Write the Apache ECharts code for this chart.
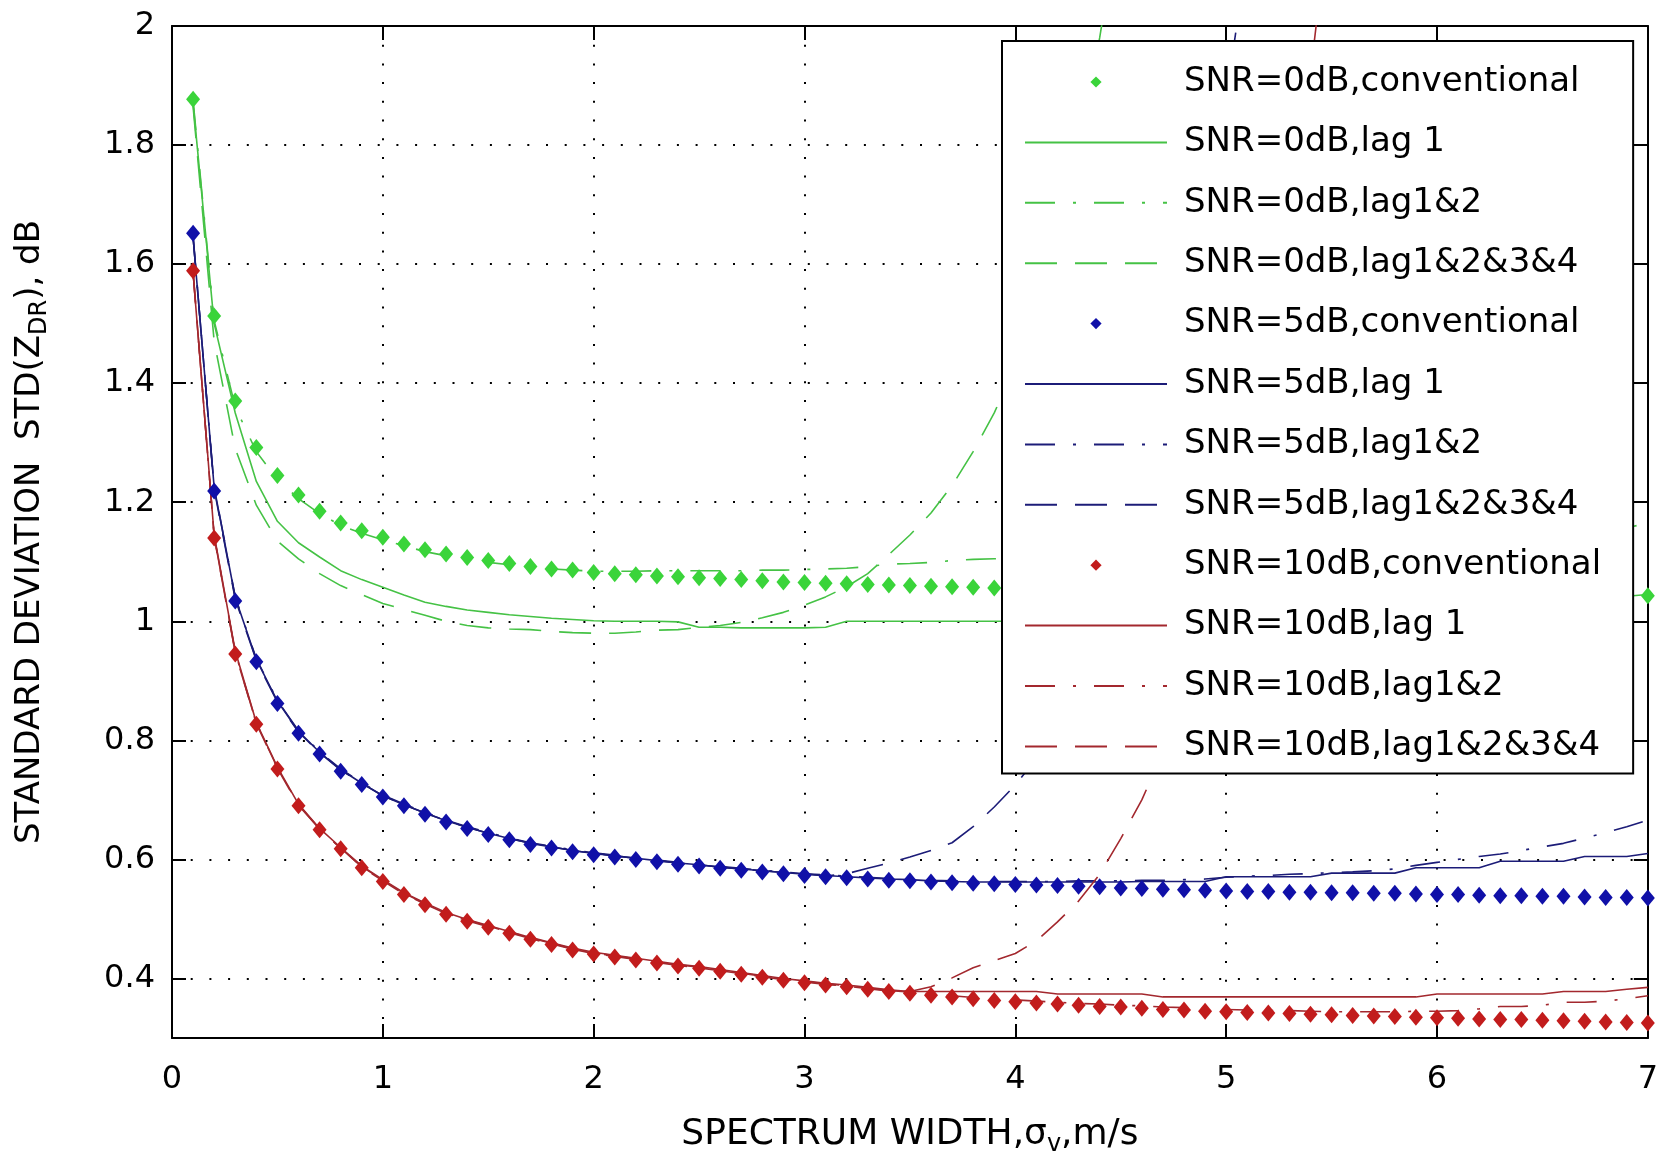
<!DOCTYPE html>
<html>
<head>
<meta charset="utf-8">
<script src="https://cdn.jsdelivr.net/npm/echarts@6/dist/echarts.min.js"></script>
<style>
  html, body { margin: 0; padding: 0; background: #ffffff; }
  #chart { width: 1661px; height: 1162px; }
</style>
</head>
<body>
<div id="chart"></div>
<script>
// Spectrum width samples (m/s)
const widths = [
  0.1,0.2,0.3,0.4,0.5,0.6,0.7,0.8,0.9,1.0,
  1.1,1.2,1.3,1.4,1.5,1.6,1.7,1.8,1.9,2.0,
  2.1,2.2,2.3,2.4,2.5,2.6,2.7,2.8,2.9,3.0,
  3.1,3.2,3.3,3.4,3.5,3.6,3.7,3.8,3.9,4.0,
  4.1,4.2,4.3,4.4,4.5,4.6,4.7,4.8,4.9,5.0,
  5.1,5.2,5.3,5.4,5.5,5.6,5.7,5.8,5.9,6.0,
  6.1,6.2,6.3,6.4,6.5,6.6,6.7,6.8,6.9,7.0
];

// SNR = 0 dB
const snr0Conventional = [
  1.877,1.513,1.370,1.292,1.245,1.212,1.185,1.165,1.152,1.141,
  1.130,1.120,1.113,1.107,1.102,1.097,1.092,1.088,1.086,1.082,
  1.080,1.078,1.076,1.075,1.073,1.072,1.070,1.068,1.066,1.065,
  1.064,1.063,1.062,1.061,1.060,1.059,1.058,1.057,1.056,1.055,
  1.055,1.054,1.054,1.053,1.053,1.052,1.052,1.051,1.051,1.050,
  1.050,1.049,1.049,1.048,1.048,1.048,1.047,1.047,1.047,1.046,
  1.046,1.046,1.045,1.045,1.045,1.044,1.044,1.044,1.043,1.043
];
const snr0Lag1 = [
  1.870,1.500,1.350,1.235,1.168,1.132,1.108,1.085,1.070,1.057,
  1.044,1.032,1.025,1.019,1.015,1.011,1.008,1.005,1.003,1.001,
  1.000,1.000,1.000,0.999,0.990,0.990,0.989,0.989,0.989,0.989,
  0.990,1.000,1.000,1.000,1.000,1.000,1.000,1.000,1.000,1.000,
  1.001,1.002,1.003,1.004,1.005,1.006,1.007,1.008,1.009,1.010,
  1.011,1.012,1.013,1.014,1.016,1.017,1.018,1.020,1.021,1.023,
  1.025,1.027,1.029,1.031,1.033,1.035,1.037,1.039,1.042,1.045
];
const snr0Lag12 = [
  1.875,1.505,1.360,1.285,1.238,1.206,1.181,1.161,1.148,1.137,
  1.127,1.117,1.110,1.104,1.099,1.095,1.091,1.088,1.086,1.084,
  1.084,1.084,1.085,1.085,1.085,1.085,1.085,1.086,1.086,1.087,
  1.088,1.089,1.092,1.096,1.097,1.099,1.102,1.104,1.105,1.106,
  1.107,1.108,1.109,1.110,1.111,1.112,1.113,1.114,1.115,1.116,
  1.117,1.118,1.119,1.120,1.121,1.123,1.124,1.126,1.127,1.129,
  1.131,1.133,1.135,1.137,1.140,1.143,1.147,1.151,1.157,1.165
];
const snr0Lag1234 = [
  1.865,1.470,1.290,1.195,1.135,1.105,1.080,1.060,1.045,1.030,
  1.020,1.010,1.000,0.993,0.989,0.987,0.986,0.983,0.981,0.980,
  0.980,0.982,0.985,0.986,0.990,0.993,0.998,1.006,1.015,1.027,
  1.041,1.058,1.080,1.112,1.145,1.182,1.228,1.285,1.350,1.430,
  1.530,1.650,1.800,1.980,2.200
];

// SNR = 5 dB
const snr5Conventional = [
  1.652,1.219,1.034,0.932,0.862,0.812,0.777,0.748,0.726,0.705,
  0.690,0.676,0.663,0.652,0.642,0.633,0.625,0.619,0.613,0.608,
  0.604,0.600,0.596,0.592,0.589,0.585,0.582,0.579,0.576,0.573,
  0.571,0.569,0.567,0.565,0.564,0.562,0.561,0.560,0.559,0.558,
  0.557,0.556,0.555,0.554,0.552,0.551,0.550,0.549,0.548,0.547,
  0.546,0.546,0.545,0.545,0.544,0.544,0.543,0.543,0.542,0.541,
  0.541,0.540,0.539,0.539,0.538,0.538,0.537,0.536,0.536,0.535
];
const snr5Lag1 = [
  1.645,1.225,1.040,0.936,0.866,0.815,0.780,0.751,0.728,0.707,
  0.692,0.678,0.665,0.654,0.644,0.635,0.627,0.621,0.615,0.610,
  0.606,0.602,0.598,0.594,0.591,0.587,0.584,0.581,0.578,0.575,
  0.573,0.571,0.569,0.567,0.566,0.564,0.563,0.562,0.562,0.562,
  0.562,0.562,0.562,0.562,0.562,0.563,0.563,0.563,0.563,0.571,
  0.571,0.571,0.571,0.571,0.577,0.577,0.577,0.577,0.586,0.586,
  0.586,0.586,0.597,0.597,0.597,0.597,0.605,0.605,0.605,0.610
];
const snr5Lag12 = [
  1.645,1.226,1.041,0.937,0.867,0.816,0.781,0.752,0.729,0.708,
  0.693,0.679,0.666,0.655,0.645,0.636,0.628,0.622,0.616,0.611,
  0.607,0.603,0.599,0.595,0.592,0.588,0.585,0.582,0.579,0.576,
  0.574,0.572,0.570,0.568,0.567,0.565,0.564,0.563,0.563,0.563,
  0.563,0.563,0.564,0.564,0.564,0.565,0.565,0.566,0.567,0.570,
  0.572,0.573,0.575,0.576,0.578,0.579,0.581,0.584,0.590,0.595,
  0.600,0.605,0.609,0.615,0.621,0.627,0.636,0.645,0.655,0.666
];
const snr5Lag1234 = [
  1.648,1.222,1.037,0.934,0.864,0.814,0.779,0.750,0.728,0.707,
  0.692,0.678,0.665,0.654,0.644,0.635,0.627,0.621,0.615,0.610,
  0.606,0.602,0.598,0.594,0.591,0.587,0.584,0.581,0.578,0.576,
  0.572,0.576,0.585,0.594,0.604,0.615,0.628,0.655,0.688,0.725,
  0.770,0.830,0.900,0.980,1.070,1.180,1.310,1.470,1.660,1.880,
  2.120
];

// SNR = 10 dB
const snr10Conventional = [
  1.589,1.140,0.945,0.827,0.752,0.690,0.650,0.618,0.586,0.563,
  0.541,0.524,0.508,0.496,0.486,0.476,0.466,0.457,0.448,0.441,
  0.436,0.431,0.426,0.421,0.417,0.412,0.407,0.402,0.397,0.393,
  0.389,0.386,0.382,0.378,0.375,0.372,0.369,0.366,0.363,0.361,
  0.359,0.357,0.355,0.353,0.352,0.350,0.348,0.347,0.345,0.344,
  0.343,0.342,0.341,0.340,0.339,0.338,0.337,0.336,0.335,0.334,
  0.333,0.332,0.331,0.331,0.330,0.329,0.328,0.327,0.326,0.325
];
const snr10Lag1 = [
  1.585,1.145,0.950,0.830,0.755,0.693,0.652,0.620,0.589,0.566,
  0.544,0.527,0.511,0.499,0.489,0.479,0.469,0.460,0.451,0.444,
  0.439,0.434,0.429,0.424,0.420,0.415,0.410,0.405,0.400,0.396,
  0.392,0.389,0.385,0.381,0.378,0.378,0.378,0.378,0.378,0.378,
  0.378,0.374,0.374,0.374,0.374,0.374,0.369,0.369,0.369,0.369,
  0.369,0.369,0.369,0.369,0.369,0.369,0.369,0.369,0.369,0.374,
  0.374,0.374,0.374,0.374,0.374,0.378,0.378,0.378,0.382,0.385
];
const snr10Lag12 = [
  1.586,1.143,0.948,0.829,0.754,0.692,0.651,0.619,0.588,0.565,
  0.543,0.526,0.510,0.498,0.488,0.478,0.468,0.459,0.450,0.443,
  0.438,0.433,0.428,0.423,0.419,0.414,0.409,0.404,0.399,0.395,
  0.391,0.388,0.384,0.380,0.377,0.374,0.371,0.368,0.366,0.364,
  0.362,0.360,0.358,0.357,0.355,0.354,0.352,0.351,0.349,0.348,
  0.347,0.346,0.346,0.345,0.344,0.344,0.344,0.344,0.345,0.345,
  0.346,0.349,0.353,0.353,0.355,0.360,0.360,0.362,0.366,0.371
];
const snr10Lag1234 = [
  1.587,1.142,0.947,0.828,0.753,0.691,0.651,0.619,0.587,0.564,
  0.542,0.525,0.509,0.497,0.487,0.477,0.467,0.458,0.449,0.442,
  0.437,0.432,0.427,0.422,0.418,0.413,0.408,0.403,0.398,0.394,
  0.390,0.387,0.383,0.379,0.378,0.386,0.401,0.418,0.430,0.442,
  0.463,0.495,0.530,0.575,0.635,0.700,0.780,0.870,0.980,1.100,
  1.250,1.430,1.650,1.920,2.220
];

// Axis ticks
const xTicks = [0, 1, 2, 3, 4, 5, 6, 7];
const yTicks = [0.4, 0.6, 0.8, 1, 1.2, 1.4, 1.6, 1.8, 2];

const FONT = "'DejaVu Sans', sans-serif";
const GREEN_MARK = '#3ad43a', GREEN_LINE = '#45c245';
const BLUE_MARK = '#1010a8', BLUE_LINE = '#1c1c78';
const RED_MARK = '#c21c1c', RED_LINE = '#a3282e';

const DASHED = [32, 18];
const DASHDOT = [30, 18, 3, 18];

function pairs(vals) {
  return vals.map(function (v, i) { return [widths[i], v]; });
}

function markerSeries(name, vals, color) {
  return {
    name: name, type: 'line', data: pairs(vals),
    symbol: 'diamond', symbolSize: [14, 17], showSymbol: true,
    lineStyle: { width: 0, opacity: 0 },
    itemStyle: { color: color, borderWidth: 0 },
    silent: true
  };
}

function curveSeries(name, vals, color, dash) {
  return {
    name: name, type: 'line', data: pairs(vals),
    symbol: 'circle', showSymbol: false,
    lineStyle: { color: color, width: 1.6, type: dash || 'solid' },
    itemStyle: { color: color, opacity: 0 },
    silent: true
  };
}

const series = [
  markerSeries('SNR=0dB,conventional', snr0Conventional, GREEN_MARK),
  curveSeries('SNR=0dB,lag 1', snr0Lag1, GREEN_LINE),
  curveSeries('SNR=0dB,lag1&2', snr0Lag12, GREEN_LINE, DASHDOT),
  curveSeries('SNR=0dB,lag1&2&3&4', snr0Lag1234, GREEN_LINE, DASHED),
  markerSeries('SNR=5dB,conventional', snr5Conventional, BLUE_MARK),
  curveSeries('SNR=5dB,lag 1', snr5Lag1, BLUE_LINE),
  curveSeries('SNR=5dB,lag1&2', snr5Lag12, BLUE_LINE, DASHDOT),
  curveSeries('SNR=5dB,lag1&2&3&4', snr5Lag1234, BLUE_LINE, DASHED),
  markerSeries('SNR=10dB,conventional', snr10Conventional, RED_MARK),
  curveSeries('SNR=10dB,lag 1', snr10Lag1, RED_LINE),
  curveSeries('SNR=10dB,lag1&2', snr10Lag12, RED_LINE, DASHDOT),
  curveSeries('SNR=10dB,lag1&2&3&4', snr10Lag1234, RED_LINE, DASHED)
];

const legendData = series.map(function (s) {
  return s.symbol === 'diamond'
    ? { name: s.name }
    : { name: s.name, itemStyle: { opacity: 0 } };
});

const axisLine = { show: true, onZero: false, lineStyle: { color: '#000', width: 2 } };
const axisTick = { show: true, inside: true, length: 14, lineStyle: { color: '#000', width: 2 } };
const dotted = { show: true, lineStyle: { color: '#000', width: 2, type: [2, 16.7] } };
const tickFont = { fontFamily: FONT, fontSize: 32, color: '#000' };
const nameFont = {
  fontFamily: FONT, fontSize: 34, color: '#000', lineHeight: 44,
  rich: { sub: { fontFamily: FONT, fontSize: 24, lineHeight: 24, verticalAlign: 'bottom', color: '#000' } }
};
const xNameFont = Object.assign({}, nameFont, { fontSize: 36 });

const option = {
  animation: false,
  backgroundColor: '#ffffff',
  grid: { left: 172, right: 11, top: 26, bottom: 124, containLabel: false },
  xAxis: [
    {
      type: 'value', min: xTicks[0], max: xTicks[xTicks.length - 1], interval: 1,
      position: 'bottom',
      axisLine: axisLine, axisTick: axisTick, splitLine: dotted,
      axisLabel: Object.assign({ margin: 26 }, tickFont),
      name: 'SPECTRUM WIDTH,σ{sub|v},m/s',
      nameLocation: 'middle', nameGap: 75, nameTextStyle: xNameFont
    },
    {
      type: 'value', min: xTicks[0], max: xTicks[xTicks.length - 1], interval: 1,
      position: 'top',
      axisLine: axisLine, axisTick: axisTick,
      axisLabel: { show: false }, splitLine: { show: false }
    }
  ],
  yAxis: [
    {
      type: 'value', min: 0.3, max: 2, splitNumber: 8,
      position: 'left',
      axisLine: axisLine,
      axisTick: Object.assign({ customValues: yTicks }, axisTick),
      splitLine: dotted,
      axisLabel: Object.assign({ margin: 17, customValues: yTicks, showMinLabel: true }, tickFont),
      name: 'STANDARD DEVIATION  STD(Z{sub|DR}), dB',
      nameLocation: 'middle', nameGap: 120, nameTextStyle: nameFont
    },
    {
      type: 'value', min: 0.3, max: 2, splitNumber: 8,
      position: 'right',
      axisLine: axisLine,
      axisTick: Object.assign({ customValues: yTicks }, axisTick),
      axisLabel: { show: false }, splitLine: { show: false }
    }
  ],
  legend: {
    orient: 'vertical', left: 1002, top: 41,
    backgroundColor: '#ffffff', borderColor: '#000', borderWidth: 2, borderRadius: 0,
    padding: [21, 32, 7, 22],
    itemWidth: 142, itemHeight: 14, itemGap: 20.4,
    selectedMode: false,
    textStyle: { fontFamily: FONT, fontSize: 34, color: '#000', lineHeight: 40, padding: [0, 0, 0, 12] },
    data: legendData
  },
  series: series
};

const chart = echarts.init(document.getElementById('chart'), null, { renderer: 'canvas' });
chart.setOption(option);
</script>
</body>
</html>
